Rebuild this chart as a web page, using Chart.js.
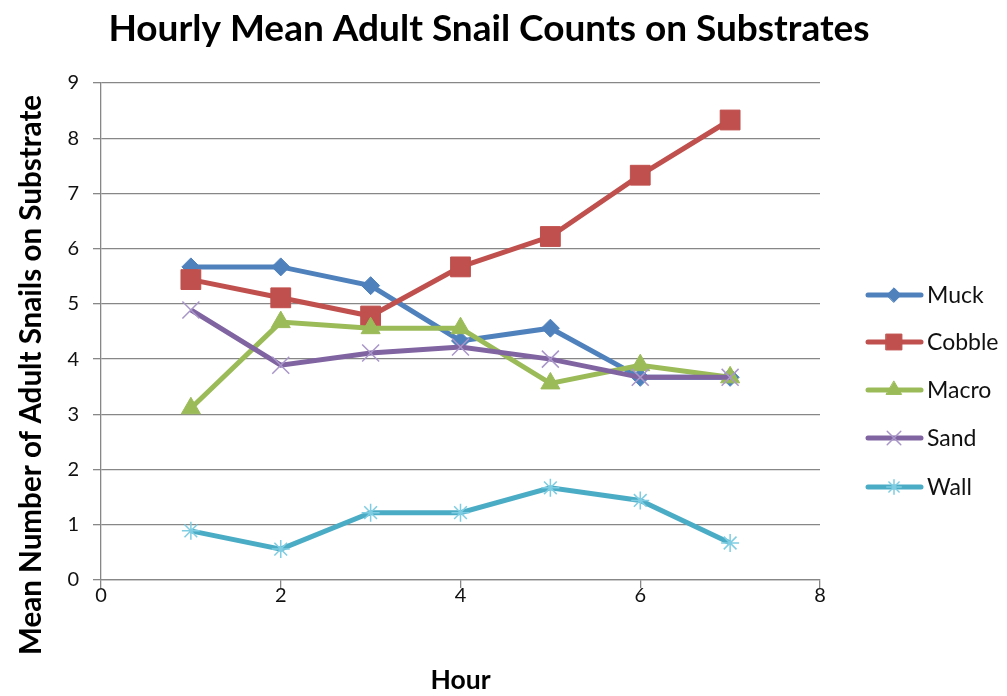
<!DOCTYPE html>
<html>
<head>
<meta charset="utf-8">
<script src="https://cdn.jsdelivr.net/npm/chart.js@4.4.1/dist/chart.umd.min.js"></script>
<style>
  html, body { margin: 0; padding: 0; background: #fff; }
</style>
</head>
<body>
<canvas id="grafico" width="1007" height="696"></canvas>
<script>
// datos
const horas = [1, 2, 3, 4, 5, 6, 7];
const muck = [5.67, 5.67, 5.33, 4.33, 4.56, 3.67, 3.67];
const cobble = [5.44, 5.11, 4.78, 5.67, 6.22, 7.33, 8.33];
const macro = [3.11, 4.67, 4.56, 4.56, 3.56, 3.89, 3.67];
const sand = [4.89, 3.89, 4.11, 4.22, 4.00, 3.67, 3.67];
const wall = [0.89, 0.56, 1.22, 1.22, 1.67, 1.44, 0.67];
const series = ["Muck", "Cobble", "Macro", "Sand", "Wall"];
const titulo = "Hourly Mean Adult Snail Counts on Substrates";
const tituloX = "Hour";
const tituloY = "Mean Number of Adult Snails on Substrate";

const fuente = "Lato, 'Open Sans', sans-serif";
const gris = "#878787";

function puntos(valores) {
    return horas.map((h, i) => ({ x: h, y: valores[i] }));
}

// ajusta el tamano de letra para que el texto ocupe un ancho dado
function ajustar(ctx, texto, peso, ancho) {
    ctx.font = peso + " 30px " + fuente;
    const w = ctx.measureText(texto).width;
    const size = 30 * ancho / w;
    ctx.font = peso + " " + size.toFixed(1) + "px " + fuente;
}

function serie(nombre, valores, color, estilo, radio, borde, colorPunto, orden) {
    return {
        label: nombre,
        data: puntos(valores),
        borderColor: color,
        backgroundColor: colorPunto,
        borderWidth: 5,
        pointStyle: estilo,
        pointRadius: radio,
        pointBorderColor: colorPunto,
        pointBackgroundColor: colorPunto,
        pointBorderWidth: borde,
        tension: 0,
        order: orden
    };
}

const decoracion = {
    id: "decoracion",
    afterDraw(chart) {
        const ctx = chart.ctx;
        const area = chart.chartArea;
        ctx.save();
        ctx.fillStyle = "#000";
        ctx.textAlign = "center";
        ctx.textBaseline = "middle";

        ajustar(ctx, titulo, "bold", 762);
        ctx.fillText(titulo, 489, 29);

        ajustar(ctx, tituloX, "bold", 60);
        ctx.fillText(tituloX, (area.left + area.right) / 2, 680);

        ctx.save();
        ctx.translate(31, 375);
        ctx.rotate(-Math.PI / 2);
        ajustar(ctx, tituloY, "bold", 560);
        ctx.fillText(tituloY, 0, 0);
        ctx.restore();

        // leyenda con linea y marcador
        const filas = [295, 342, 390, 438, 487];
        chart.data.datasets.forEach((ds, i) => {
            const y = filas[i];
            ctx.strokeStyle = ds.borderColor;
            ctx.lineWidth = 5;
            ctx.lineCap = "round";
            ctx.beginPath();
            ctx.moveTo(868, y);
            ctx.lineTo(921, y);
            ctx.stroke();
            ctx.fillStyle = ds.pointBackgroundColor;
            ctx.strokeStyle = ds.pointBorderColor;
            ctx.lineWidth = ds.pointBorderWidth;
            Chart.helpers.drawPoint(ctx, {
                pointStyle: ds.pointStyle,
                radius: ds.pointRadius * 0.8,
                rotation: 0,
                borderWidth: ds.pointBorderWidth
            }, 894, y);
            ctx.fillStyle = "#111";
            ctx.textAlign = "left";
            ctx.font = "23px " + fuente;
            ctx.fillText(ds.label, 927, y + 1);
        });
        ctx.restore();
    }
};

const ctx = document.getElementById("grafico").getContext("2d");

new Chart(ctx, {
    type: "line",
    data: {
        datasets: [
            serie(series[0], muck, "#4F81BD", "rectRot", 9, 1, "#4F81BD", 5),
            serie(series[1], cobble, "#C0504D", "rect", 14, 1, "#C0504D", 4),
            serie(series[2], macro, "#9BBB59", "triangle", 11, 1, "#9BBB59", 3),
            serie(series[3], sand, "#8064A2", "crossRot", 12, 1.5, "#A996C9", 2),
            serie(series[4], wall, "#4BACC6", "star", 9, 1.5, "#7FCDE2", 1)
        ]
    },
    options: {
        responsive: false,
        animation: false,
        events: [],
        layout: { padding: { left: 0, top: 83, right: 187, bottom: 0 } },
        plugins: {
            legend: { display: false },
            title: { display: false },
            tooltip: { enabled: false }
        },
        scales: {
            x: {
                type: "linear",
                min: 0,
                max: 8,
                ticks: { stepSize: 2, color: "#111", padding: -4, font: { family: fuente, size: 20 } },
                grid: { drawOnChartArea: false, color: gris, lineWidth: 1.3, tickLength: 8 },
                border: { color: gris, width: 1.3 },
                afterFit(scale) { scale.height = 116; }
            },
            y: {
                min: 0,
                max: 9,
                ticks: { stepSize: 1, color: "#111", padding: 14, font: { family: fuente, size: 20 } },
                grid: { color: gris, lineWidth: 1.3, tickLength: 8 },
                border: { color: gris, width: 1.3 },
                afterFit(scale) { scale.width = 101; }
            }
        }
    },
    plugins: [decoracion]
});
</script>
</body>
</html>
